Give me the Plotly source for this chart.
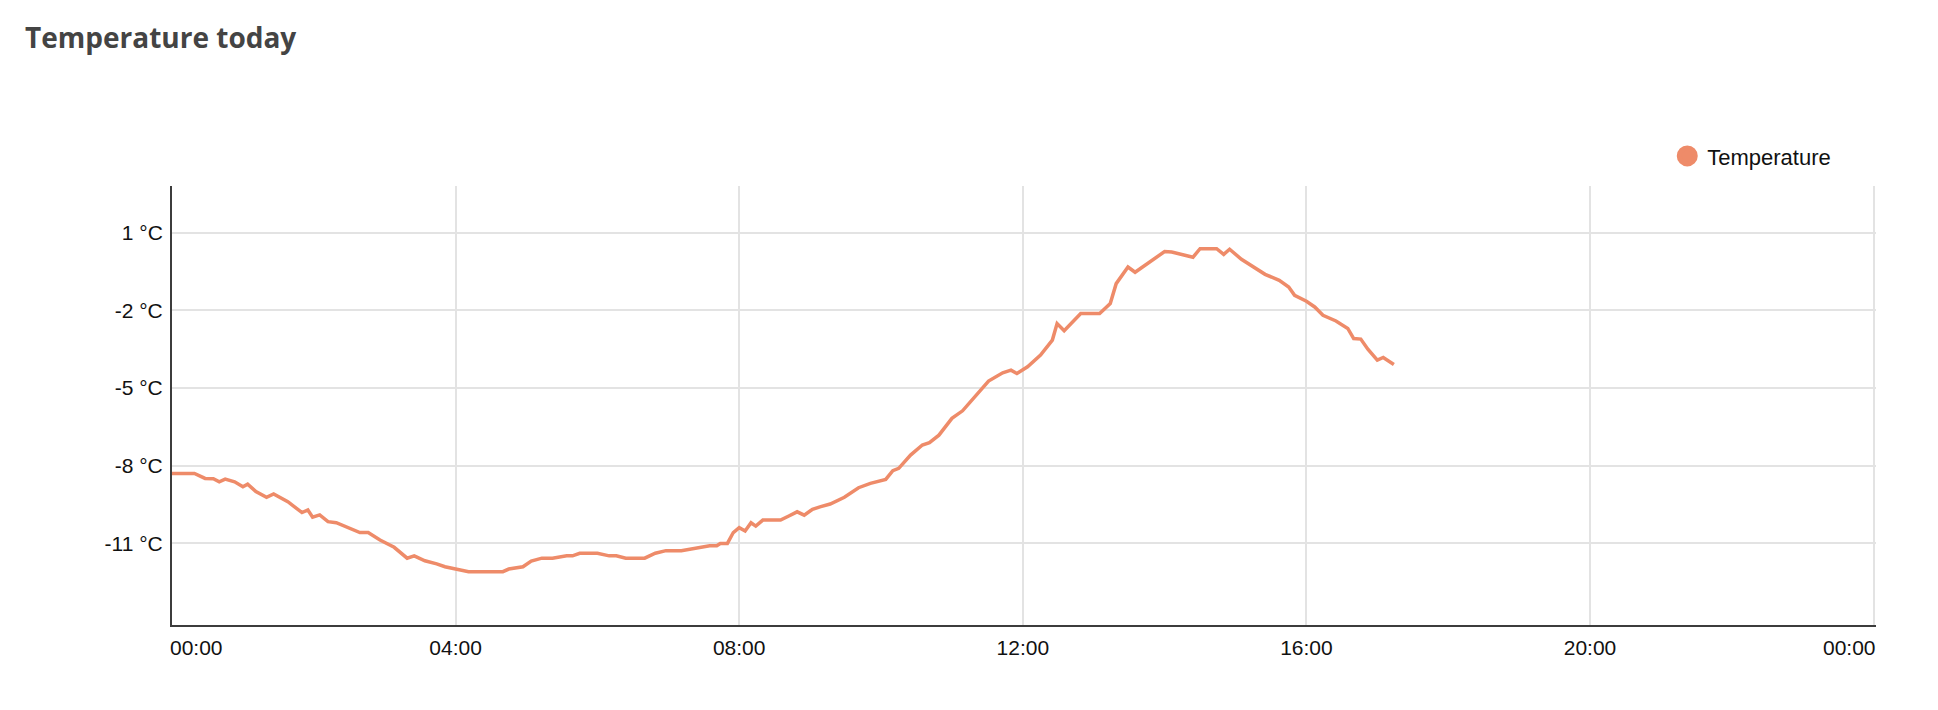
import plotly.graph_objects as go
import pandas as pd

# ---- data ----
day = "2024-01-15"
times = [
    "00:00", "00:19", "00:28", "00:35", "00:40", "00:45", "00:53", "01:00", "01:04", "01:11",
    "01:20", "01:26", "01:38", "01:44", "01:50", "01:55", "01:59", "02:05", "02:12", "02:19",
    "02:31", "02:39", "02:46", "02:56", "03:08", "03:19", "03:25", "03:34", "03:44", "03:51",
    "04:01", "04:11", "04:40", "04:45", "04:57", "05:04", "05:13", "05:22", "05:34", "05:39",
    "05:45", "06:00", "06:10", "06:16", "06:24", "06:40", "06:49", "06:58", "07:11", "07:23",
    "07:35", "07:41", "07:44", "07:50", "07:55", "08:00", "08:05", "08:10", "08:14", "08:20",
    "08:35", "08:42", "08:49", "08:55", "09:02", "09:09", "09:17", "09:29", "09:41", "09:51",
    "10:04", "10:10", "10:15", "10:25", "10:35", "10:41", "10:49", "11:00", "11:09", "11:31",
    "11:43", "11:50", "11:55", "12:04", "12:15", "12:25", "12:29", "12:35", "12:49", "13:05",
    "13:14", "13:19", "13:29", "13:35", "13:46", "13:54", "14:00", "14:06", "14:14", "14:24",
    "14:30", "14:44", "14:50", "14:55", "15:05", "15:16", "15:25", "15:37", "15:45", "15:50",
    "16:00", "16:07", "16:14", "16:25", "16:35", "16:40", "16:46", "16:52", "17:00", "17:05",
    "17:14",
]
temperature = [
    -8.30, -8.30, -8.49, -8.50, -8.62, -8.52, -8.62, -8.81, -8.71, -9.00,
    -9.22, -9.09, -9.39, -9.58, -9.81, -9.71, -9.99, -9.90, -10.16, -10.20,
    -10.42, -10.58, -10.58, -10.87, -11.15, -11.57, -11.48, -11.67, -11.79, -11.90,
    -12.00, -12.09, -12.09, -11.99, -11.90, -11.68, -11.57, -11.57, -11.48, -11.48,
    -11.38, -11.38, -11.48, -11.48, -11.57, -11.57, -11.38, -11.28, -11.28, -11.19,
    -11.09, -11.09, -11.00, -11.00, -10.58, -10.39, -10.52, -10.20, -10.33, -10.10,
    -10.10, -9.94, -9.78, -9.91, -9.68, -9.58, -9.48, -9.22, -8.85, -8.68,
    -8.53, -8.19, -8.10, -7.59, -7.20, -7.11, -6.82, -6.17, -5.88, -4.73,
    -4.41, -4.31, -4.44, -4.18, -3.73, -3.15, -2.51, -2.79, -2.12, -2.12,
    -1.74, -0.97, -0.33, -0.53, -0.18, 0.06, 0.27, 0.25, 0.16, 0.05,
    0.38, 0.38, 0.16, 0.36, -0.03, -0.33, -0.61, -0.84, -1.10, -1.42,
    -1.65, -1.87, -2.19, -2.41, -2.70, -3.09, -3.11, -3.50, -3.92, -3.82,
    -4.09,
]
x_tick_hours = [0, 4, 8, 12, 16, 20, 24]
x_tick_text = ["00:00", "04:00", "08:00", "12:00", "16:00", "20:00", "00:00"]
y_ticks = [1, -2, -5, -8, -11]
y_tick_text = ["1 °C", "-2 °C", "-5 °C", "-8 °C", "-11 °C"]
series_name = "Temperature"
title_text = "Temperature today"

# ---- styles ----
LINE_COLOR = "#EE8B69"
GRID_COLOR = "#E3E3E3"
AXIS_COLOR = "#3C3C3C"
FONT_FAMILY = "Liberation Sans, Arial, sans-serif"
TICK_FONT = dict(family=FONT_FAMILY, size=21, color="#111111")

W, H = 1922, 694
x_dt = pd.to_datetime([f"{day} {t}" for t in times])
x_start = pd.Timestamp(f"{day} 00:00")
x_end = x_start + pd.Timedelta(hours=24)
x_tickvals = [x_start + pd.Timedelta(hours=h) for h in x_tick_hours]
# first / last labels are justified inside the plot edges (drawn as annotations)
axis_ticktext = [""] + x_tick_text[1:-1] + [""]

fig = go.Figure()
fig.add_trace(go.Scatter(
    x=x_dt, y=temperature, mode="lines", name=series_name,
    line=dict(color=LINE_COLOR, width=3.5), showlegend=False,
))
# legend entry (circle symbol like the reference)
fig.add_trace(go.Scatter(
    x=[None], y=[None], mode="markers", name=series_name,
    marker=dict(color=LINE_COLOR, size=16, symbol="circle",
                line=dict(color=LINE_COLOR, width=5)),
    showlegend=True,
))

plot_h = H - 178 - 77
label_y = -22 / plot_h
fig.add_annotation(text=x_tick_text[0], xref="paper", yref="paper", x=0, y=label_y,
                   xanchor="left", yanchor="middle", showarrow=False, font=TICK_FONT,
                   xshift=-4)
fig.add_annotation(text=x_tick_text[-1], xref="paper", yref="paper", x=1, y=label_y,
                   xanchor="right", yanchor="middle", showarrow=False, font=TICK_FONT,
                   xshift=2)

fig.update_layout(
    width=W, height=H,
    paper_bgcolor="white", plot_bgcolor="white",
    margin=dict(l=164, r=54, t=178, b=77),
    title=dict(
        text=title_text, x=17 / W, xanchor="left", xref="container",
        y=1 - 30 / H, yanchor="middle", yref="container",
        font=dict(family="Open Sans, sans-serif", size=28, color="#444444", weight="bold"),
    ),
    legend=dict(
        x=0.8775, xanchor="left", y=1.068, yanchor="middle",
        font=dict(family=FONT_FAMILY, size=22, color="#111111"),
        itemwidth=30, bgcolor="rgba(0,0,0,0)",
    ),
    showlegend=True,
)

fig.update_xaxes(
    type="date",
    range=[x_start, x_end + pd.Timedelta(minutes=2)],
    tickmode="array", tickvals=x_tickvals, ticktext=axis_ticktext,
    showgrid=True, gridcolor=GRID_COLOR, gridwidth=1.5,
    showline=True, linecolor=AXIS_COLOR, linewidth=2,
    zeroline=False, ticks="", ticklabelstandoff=3,
    tickfont=TICK_FONT,
)
fig.update_yaxes(
    range=[-14.15, 2.8],
    tickmode="array", tickvals=y_ticks, ticktext=y_tick_text,
    showgrid=True, gridcolor=GRID_COLOR, gridwidth=1.5,
    showline=True, linecolor=AXIS_COLOR, linewidth=2,
    zeroline=False, ticks="", ticklabelstandoff=3,
    tickfont=TICK_FONT,
)

fig.write_html("out.html")
